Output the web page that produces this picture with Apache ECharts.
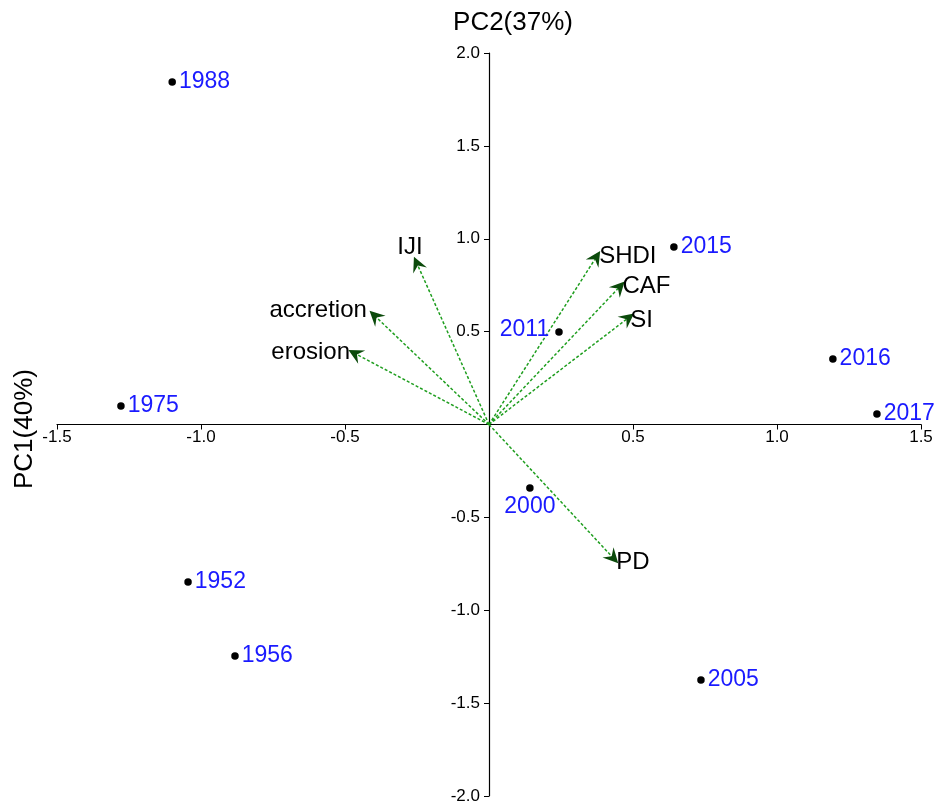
<!DOCTYPE html>
<html>
<head>
<meta charset="utf-8">
<script src="https://cdn.jsdelivr.net/npm/echarts@6/dist/echarts.min.js"></script>
<style>
html,body{margin:0;padding:0;background:#fff;}
#main{width:940px;height:807px;}
</style>
</head>
<body>
<div id="main"></div>
<script>
// Sample scores
const years = ['1952','1956','1975','1988','2000','2005','2011','2015','2016','2017'];
const pc1 = [-1.045,-0.882,-1.278,-1.100,0.142,0.736,0.243,0.642,1.194,1.347];
const pc2 = [-0.848,-1.246,0.100,1.844,-0.342,-1.375,0.498,0.955,0.353,0.057];

// Variable loadings (arrows)
const vars = ['IJI','accretion','erosion','SHDI','CAF','SI','PD'];
const load1 = [-0.250,-0.396,-0.465,0.372,0.453,0.483,0.431];
const load2 = [0.866,0.584,0.382,0.900,0.740,0.573,-0.718];

// Axis ticks
const xTicks = [-1.5,-1.0,-0.5,0,0.5,1.0,1.5];
const yTicks = [-2.0,-1.5,-1.0,-0.5,0,0.5,1.0,1.5,2.0];

const FONT = '"Liberation Sans", Arial, sans-serif';
const GRID = {left:57, right:19, top:53, bottom:11};
const W = 940, H = 807;
const gw = W - GRID.left - GRID.right, gh = H - GRID.top - GRID.bottom;
const xMin = xTicks[0], xMax = xTicks[xTicks.length-1];
const yMin = yTicks[0], yMax = yTicks[yTicks.length-1];
// offsets so the axes pass through the origin
const yAxisOffset = -gw * (0 - xMin) / (xMax - xMin);
const xAxisOffset = -gh * (0 - yMin) / (yMax - yMin);

// label placements (style only)
const yearLabelPos = {'2011':{position:'left',distance:6,offset:[0,-2]}, '2000':{position:'bottom',distance:3,offset:[0,0]}};
const varLabelPos = {
  'IJI':{position:'top',distance:4,offset:[-7,0]},
  'accretion':{position:'left',distance:8,offset:[0,-6]},
  'erosion':{position:'left',distance:5,offset:[0,-1]},
  'SHDI':{position:'right',distance:3,offset:[0,-1]},
  'CAF':{position:'right',distance:3,offset:[0,-1]},
  'SI':{position:'right',distance:2,offset:[0,2]},
  'PD':{position:'right',distance:3,offset:[0,5]}
};

const chart = echarts.init(document.getElementById('main'), null, {renderer:'canvas'});

const scoreData = years.map((y,i)=>{
  const p = yearLabelPos[y] || {position:'right',distance:3,offset:[0,0]};
  return {name:y, value:[pc1[i],pc2[i]], label:{position:p.position, distance:p.distance, offset:p.offset}};
});
const arrowData = vars.map((v,i)=>({name:v, coords:[[0,0],[load1[i],load2[i]]]}));
const tipData = vars.map((v,i)=>{
  const p = varLabelPos[v];
  return {name:v, value:[load1[i],load2[i]], label:{position:p.position, distance:p.distance, offset:p.offset}};
});

const fmt = v => (Math.abs(v) < 1e-9 ? '' : v.toFixed(1));

chart.setOption({
  animation:false,
  backgroundColor:'#fff',
  grid:GRID,
  title:{text:'PC2(37%)', left:508, top:5, textAlign:'center',
    textStyle:{fontFamily:FONT, fontSize:26, fontWeight:'normal', color:'#000'}},
  graphic:[{type:'text', rotation:Math.PI/2, x:12, y:489,
    style:{text:'PC1(40%)', font:'26px '+FONT, fill:'#000'}}],
  xAxis:{type:'value', min:xMin, max:xMax, interval:0.5, position:'bottom', offset:xAxisOffset,
    axisLine:{onZero:false, lineStyle:{color:'#000', width:1.2}},
    axisTick:{show:true, inside:false, length:5, lineStyle:{color:'#000'}},
    axisLabel:{margin:4, color:'#000', fontFamily:FONT, fontSize:17, formatter:fmt, showMinLabel:true, showMaxLabel:true},
    splitLine:{show:false}},
  yAxis:{type:'value', min:yMin, max:yMax, interval:0.5, position:'left', offset:yAxisOffset,
    axisLine:{onZero:false, lineStyle:{color:'#000', width:1.2}},
    axisTick:{show:true, inside:false, length:5, lineStyle:{color:'#000'}},
    axisLabel:{margin:9, color:'#000', fontFamily:FONT, fontSize:17, formatter:fmt, showMinLabel:true, showMaxLabel:true},
    splitLine:{show:false}},
  series:[
    {type:'lines', coordinateSystem:'cartesian2d', polyline:false, silent:true,
      symbol:['none','none'],
      lineStyle:{color:'#1f9e1f', width:1.5, type:[3,2], opacity:1, curveness:0},
      data:arrowData, z:3},
    {type:'lines', coordinateSystem:'cartesian2d', polyline:false, silent:true,
      symbol:['none','path://M0,0 L5,14 L0,9 L-5,14 Z'], symbolSize:[11,15],
      lineStyle:{color:'#0b4a0b', width:0.01, opacity:1, curveness:0},
      data:arrowData, z:4},
    {type:'scatter', symbolSize:0.1, silent:true,
      itemStyle:{color:'#fff', opacity:1},
      label:{show:true, formatter:'{b}', color:'#000', opacity:1, fontFamily:FONT, fontSize:24},
      data:tipData, z:5},
    {type:'scatter', symbol:'circle', symbolSize:7.5, silent:true,
      itemStyle:{color:'#000', opacity:1},
      label:{show:true, formatter:'{b}', color:'#1a1aff', opacity:1, fontFamily:FONT, fontSize:23},
      data:scoreData, z:6}
  ]
});
</script>
</body>
</html>
